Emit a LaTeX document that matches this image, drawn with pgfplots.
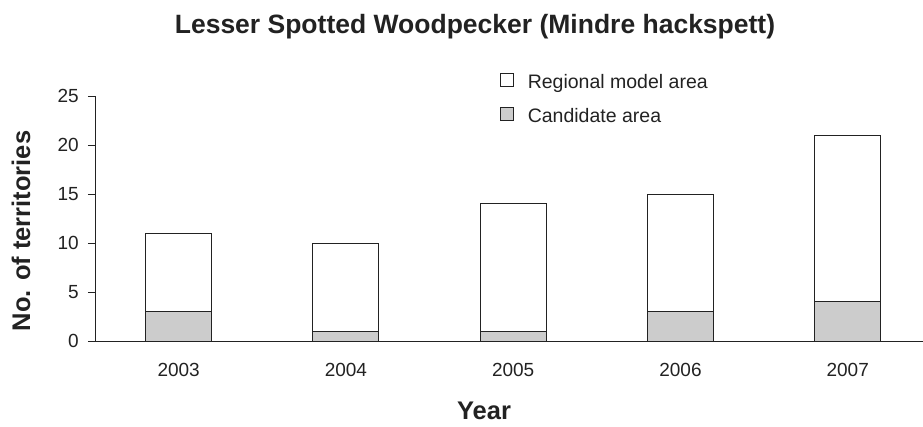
\documentclass[border=0pt]{standalone}
\usepackage{pgfplots}
\pgfplotsset{compat=1.18}
\usepackage{fontspec}
\setmainfont{Liberation Sans}
\definecolor{candgray}{HTML}{CCCCCC}
\definecolor{ink}{HTML}{222222}

\begin{document}
\begin{tikzpicture}[x=1pt,y=1pt]
\useasboundingbox (-95,-85) rectangle (828,341);
\begin{axis}[
    at={(0,0)}, anchor=south west,
    scale only axis,
    width=828pt, height=245pt,
    ybar stacked,
    bar width=66pt,
    xmin=-0.5, xmax=4.45,
    ymin=0, ymax=25,
    axis x line=bottom, axis y line=left,
    axis line style={ink, -, line width=0.8pt},
    ytick={0,5,...,25},
    xtick={0,1,2,3,4},
    xticklabels={2003,2004,2005,2006,2007},
    extra x ticks={-0.5,0.5,1.5,2.5,3.5},
    extra x tick labels={},
    extra x tick style={major tick length=8pt, tick style={ink, line width=0.8pt}},
    x tick style={draw=none},
    y tick style={ink, line width=0.8pt},
    tick align=outside,
    major tick length=7pt,
    /pgf/number format/assume math mode=true,
    tick label style={font=\fontsize{19}{19}\selectfont, text=ink, inner sep=0pt},
    xticklabel style={yshift=-15pt},
    yticklabel style={xshift=-9pt},
    legend cell align=left,
    legend style={draw=none, fill=none, at={(0.489,1.096)}, anchor=north west,
        inner sep=0pt,
        font=\fontsize{19.5}{19.5}\selectfont, text=ink, row sep=14pt,
        nodes={inner sep=0pt, text height=14pt, text depth=4pt},
        /tikz/every odd column/.append style={column sep=14pt}},
    legend image code/.code={\draw[#1, draw=ink, line width=0.7pt] (0pt,-2.5pt) rectangle (13pt,10.5pt);},
]
\addlegendimage{fill=white}
\addlegendentry{Regional model area}
\addlegendimage{fill=candgray}
\addlegendentry{Candidate area}
\addplot[fill=candgray, draw=ink, line width=0.9pt, forget plot] coordinates {(0,3) (1,1) (2,1) (3,3) (4,4)};
\addplot[fill=white, draw=ink, line width=0.9pt, forget plot] coordinates {(0,8) (1,9) (2,13) (3,12) (4,17)};
\end{axis}
\node[font=\bfseries\fontsize{26.5}{26.5}\selectfont, text=ink] at (380,314) {Lesser Spotted Woodpecker (Mindre hackspett)};
\node[font=\bfseries\fontsize{25.5}{25.5}\selectfont, text=ink] at (389,-70) {Year};
\node[font=\bfseries\fontsize{25.5}{25.5}\selectfont, text=ink, rotate=90] at (-74,110) {No. of territories};
\end{tikzpicture}
\end{document}
